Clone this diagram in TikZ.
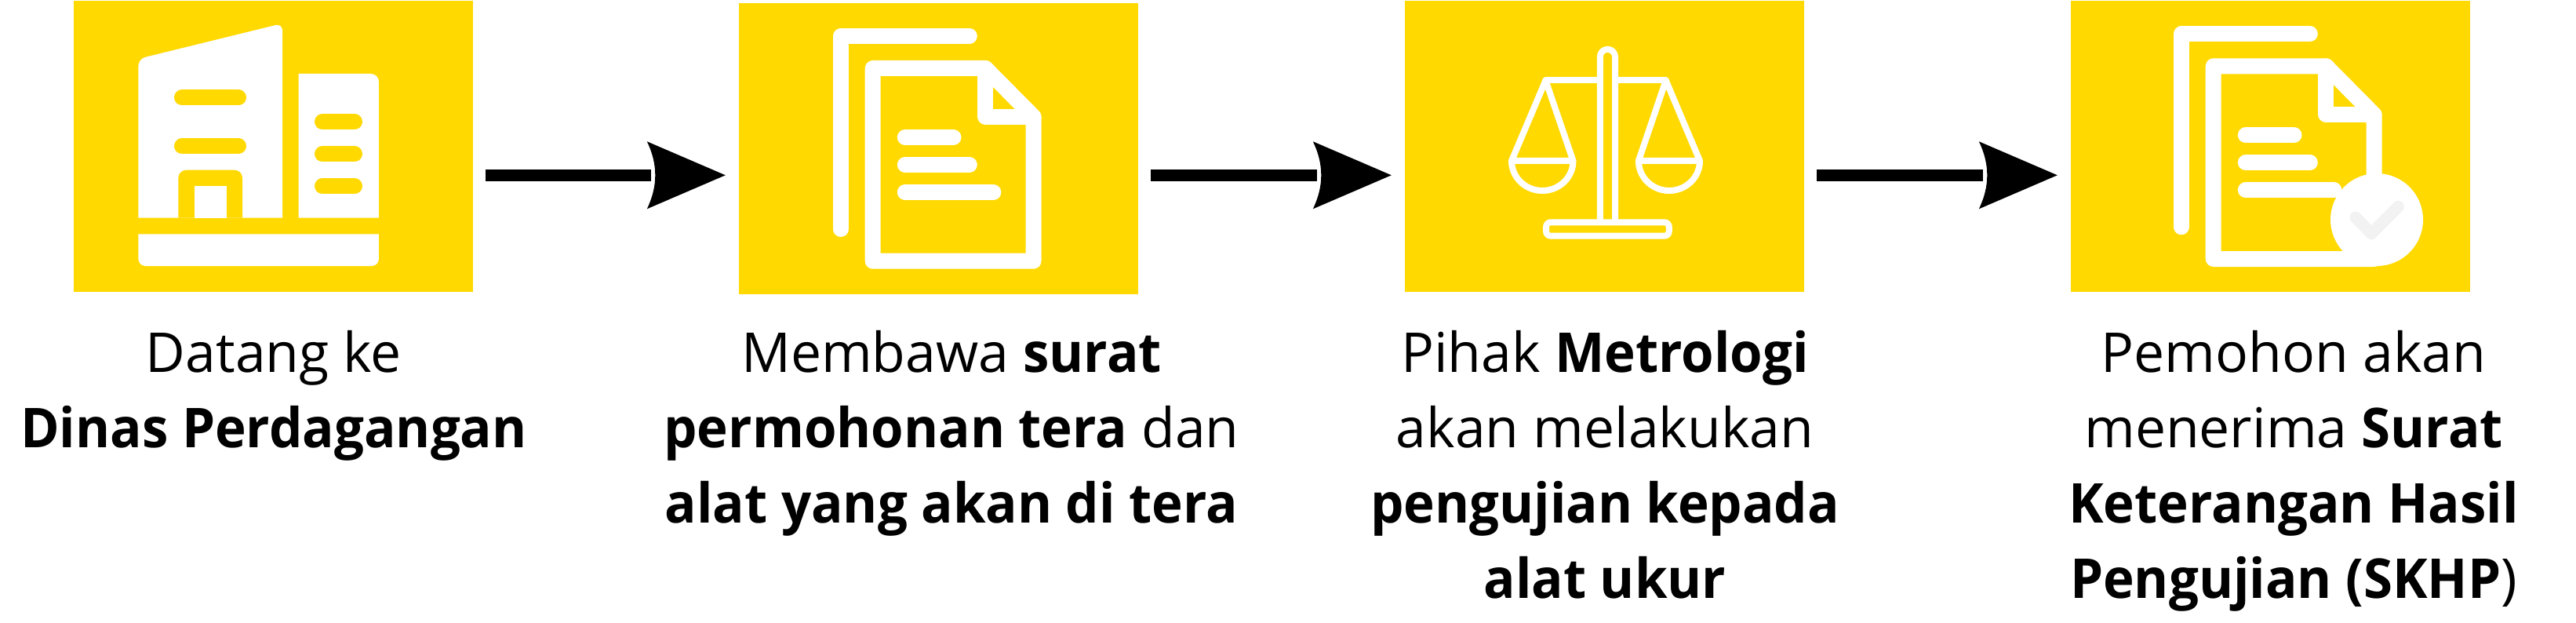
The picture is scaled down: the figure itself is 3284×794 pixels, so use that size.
\documentclass[tikz,border=0pt]{standalone}
\usepackage{fontspec}
\setmainfont{Open Sans}[FakeStretch=0.995,BoldFont={Open Sans Bold},BoldFeatures={FakeStretch=0.96}]
\pgfdeclarearrow{
  name=FlowHead,
  setup code={
    \pgfarrowssettipend{0pt}
    \pgfarrowssetlineend{-95pt}
    \pgfarrowssetvisualbackend{-100pt}
    \pgfarrowssetbackend{-100pt}
    \pgfarrowshullpoint{0pt}{0pt}
    \pgfarrowshullpoint{-100pt}{43pt}
    \pgfarrowshullpoint{-100pt}{-43pt}
  },
  drawing code={
    \pgfpathmoveto{\pgfqpoint{0pt}{0pt}}
    \pgfpathlineto{\pgfqpoint{-100pt}{43pt}}
    \pgfpathcurveto{\pgfqpoint{-86pt}{14pt}}{\pgfqpoint{-86pt}{-14pt}}{\pgfqpoint{-100pt}{-43pt}}
    \pgfpathclose
    \pgfusepathqfill
  },
}
\definecolor{panelyellow}{HTML}{FFD900}
\definecolor{tickgrey}{HTML}{F2F2F2}
\tikzset{
  panel/.style={fill=panelyellow,draw=none,inner sep=0pt,minimum width=509pt,minimum height=371pt},
  caption/.style={anchor=north,inner sep=0pt,align=center,font=\fontsize{70}{96}\selectfont,text=black},
  flow/.style={line width=15pt,black,-{FlowHead},shorten <=16pt,shorten >=17pt},
  icobar/.style={line width=20pt,line cap=round},
  docline/.style={draw=white,line width=20pt,line cap=round,line join=round},
  scaleline/.style={draw=white,line width=8pt,line cap=round,line join=round},
}
\newcommand{\tl}{\rule{0pt}{60pt}}
\newcommand{\docicon}{%
  \draw[docline] (1071.9,292) -- (1071.9,46) -- (1235.8,46);
  \draw[docline] (1256.4,87) -- (1112.7,87) -- (1112.7,332.7) -- (1317.5,332.7) -- (1317.5,148.7) -- cycle;
  \draw[docline] (1256.4,87) -- (1256.4,148.7) -- (1317.5,148.7);
  \draw[docline] (1153.8,175) -- (1215.5,175);
  \draw[docline] (1153.8,210) -- (1235.8,210);
  \draw[docline] (1153.8,245) -- (1266.4,245);
}
\begin{document}
\begin{tikzpicture}[x=1pt,y=-1pt]
\path[use as bounding box,fill=white] (0,0) rectangle (3284,794);
% panels
\node[panel] (b1) at (348.4,186.5) {};
\node[panel] (b2) at (1196.5,189.5) {};
\node[panel] (b3) at (2045.5,186.5) {};
\node[panel] (b4) at (2894.5,186.5) {};
% connectors
\draw[flow] ([yshift=-36.8pt]b1.east) -- ([yshift=-33.8pt]b2.west);
\draw[flow] ([yshift=-33.8pt]b2.east) -- ([yshift=-36.8pt]b3.west);
\draw[flow] ([yshift=-36.8pt]b3.east) -- ([yshift=-36.8pt]b4.west);
% building icon
\fill[white] (176.4,277.7) [rounded corners=9pt] -- (176.4,75) -- (360,29.9) -- (360,120) [sharp corners] -- (360,277.7) -- cycle;
\fill[panelyellow] (227.4,277.7) [rounded corners=10pt] -- (227.4,216.7) -- (309,216.7) -- (309,240) [sharp corners] -- (309,277.7) -- cycle;
\fill[white] (247.7,237) rectangle (288.7,277.7);
\fill[white] (380.6,277.7) -- (380.6,94) [rounded corners=10pt] -- (482.9,94) -- (482.9,180) [sharp corners] -- (482.9,277.7) -- cycle;
\fill[white] (176.4,298.3) [rounded corners=9pt] -- (176.4,339) -- (482.9,339) [sharp corners] -- (482.9,298.3) -- cycle;
\draw[icobar,panelyellow] (232,124.5) -- (304,124.5);
\draw[icobar,panelyellow] (232,186.2) -- (304,186.2);
\draw[icobar,panelyellow] (411,155.2) -- (452,155.2);
\draw[icobar,panelyellow] (411,196.2) -- (452,196.2);
\draw[icobar,panelyellow] (411,237.2) -- (452,237.2);
% document icon
\docicon
% scales icon
\draw[scaleline] (2039.8,283) -- (2039.8,72.4) arc[start angle=180,end angle=360,x radius=9.6,y radius=9.6] -- (2059,283);
\draw[scaleline] (1970.4,102.5) -- (2039.8,102.5);
\draw[scaleline] (2059,102.5) -- (2123.7,102.5);
\draw[scaleline] (1927,205) -- (1970.4,102.5) -- (2005.5,205) -- cycle;
\draw[scaleline] (1927,205) arc[start angle=180,end angle=360,x radius=39.25,y radius=-38];
\draw[scaleline] (2088.9,205) -- (2123.7,102.5) -- (2167,205) -- cycle;
\draw[scaleline] (2088.9,205) arc[start angle=180,end angle=360,x radius=39.05,y radius=-38];
\draw[draw=white,line width=8pt,rounded corners=6pt] (1971,283.3) rectangle (2127.8,300.7);
% document with tick icon
\begin{scope}[shift={(1709,-2.7)}]
\docicon
\end{scope}
\fill[white] (3030,280) circle[radius=59];
\draw[line width=15pt,tickgrey,line cap=round,line join=round] (3003,277) -- (3023,297.7) -- (3057.3,263.3);
% captions
\node[caption] (t1) at (349,414) {\tl Datang ke\\\textbf{Dinas Perdagangan}};
\node[caption] (t2) at (1213,414) {\tl Membawa \textbf{surat}\\\textbf{permohonan tera} dan\\\textbf{alat yang akan di tera}};
\node[caption] (t3) at (2046,414) {\tl Pihak \textbf{Metrologi}\\akan melakukan\\\textbf{pengujian kepada}\\\textbf{alat ukur}};
\node[caption] (t4) at (2924,414) {\tl Pemohon akan\\menerima \textbf{Surat}\\\textbf{Keterangan Hasil}\\\textbf{Pengujian (SKHP})};
\end{tikzpicture}
\end{document}
